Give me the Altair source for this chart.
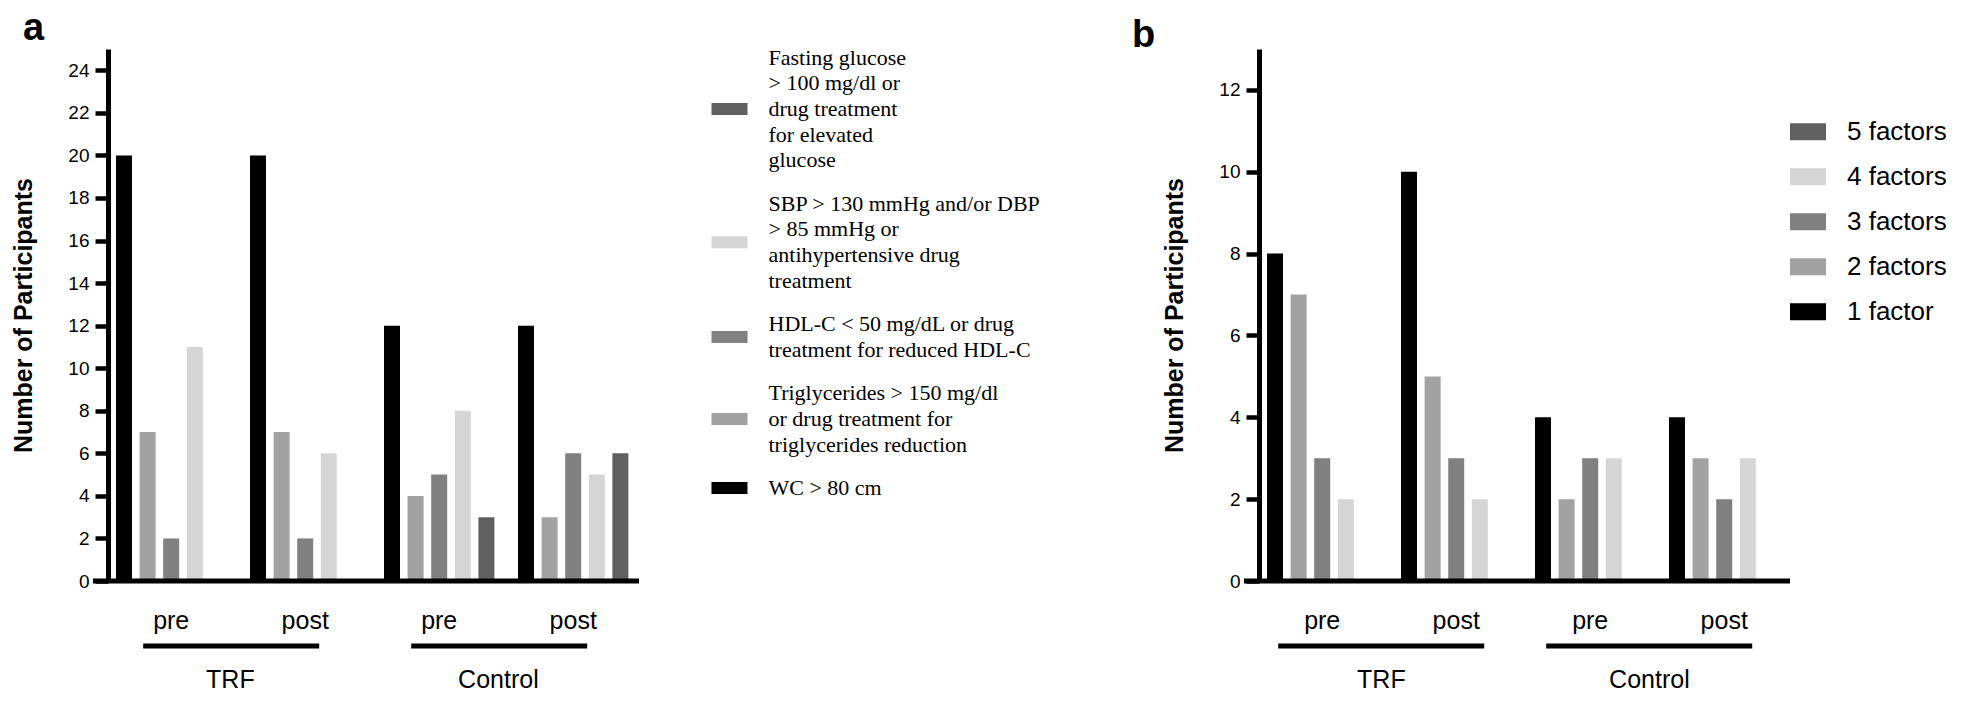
import altair as alt
import pandas as pd

SANS = "Liberation Sans"
SERIF = "Liberation Serif"

# ---------------- data ----------------
groups = ["TRF pre", "TRF post", "Control pre", "Control post"]
bracket_start = ["TRF pre", "Control pre"]
bracket_end = ["TRF post", "Control post"]
bracket_label = ["TRF", "Control"]

# panel a: metabolic syndrome criteria (bar order left -> right); '|' marks a line break
cat_a = [
    "WC > 80 cm",
    "Triglycerides > 150 mg/dl|or drug treatment for|triglycerides reduction",
    "HDL-C < 50 mg/dL or drug|treatment for reduced HDL-C",
    "SBP > 130 mmHg and/or DBP|> 85 mmHg or|antihypertensive drug|treatment",
    "Fasting glucose|> 100 mg/dl or|drug treatment|for elevated|glucose",
]
colors_a = ["#000000", "#a2a2a2", "#808080", "#d5d5d5", "#606060"]
wc = [20, 20, 12, 12]
tg = [7, 7, 4, 3]
hdl = [2, 2, 5, 6]
sbp = [11, 6, 8, 5]
glu = [0, 0, 3, 6]
values_a = [wc, tg, hdl, sbp, glu]

# panel b: number of risk factors
cat_b = ["1 factor", "2 factors", "3 factors", "4 factors", "5 factors"]
colors_b = ["#000000", "#a2a2a2", "#808080", "#d5d5d5", "#606060"]
f1 = [8, 10, 4, 4]
f2 = [7, 5, 2, 3]
f3 = [3, 3, 3, 2]
f4 = [2, 2, 3, 3]
f5 = [0, 0, 0, 0]
values_b = [f1, f2, f3, f4, f5]

yticks_a = list(range(0, 25, 2))
yticks_b = list(range(0, 13, 2))
panel_letters = ["a", "b"]


def long_df(cats, vals):
    rows = []
    for c, series in zip(cats, vals):
        for g, v in zip(groups, series):
            rows.append({"group": g, "category": c, "value": v})
    return pd.DataFrame(rows)


W = 531
H = 532


def legend_layer(cats, colors, unit, gap, d0, font, size, sw_path, sw_x, txt_x):
    legend_order = cats[::-1]
    df = pd.DataFrame({"category": legend_order, "order": list(range(len(legend_order)))})
    base = alt.Chart(df).transform_calculate(
        lines="split(datum.category, '|')",
        n="length(split(datum.category, '|'))",
    ).transform_window(
        cum="sum(n)", sort=[alt.SortField("order")], frame=[None, 0]
    ).transform_calculate(
        top=f"datum.cum - datum.n + {gap} * datum.order",
        mid=f"datum.cum - 0.5 * datum.n + {gap} * datum.order",
    )
    yscale = alt.Scale(domain=[d0, d0 + H / unit], reverse=True, nice=False, zero=False)
    sw = base.mark_point(shape=sw_path, size=1296, filled=True, opacity=1, strokeWidth=0).encode(
        x=alt.value(sw_x),
        y=alt.Y("mid:Q", scale=yscale, axis=None),
        color=alt.Color("category:N", scale=alt.Scale(domain=legend_order, range=colors[::-1]),
                        legend=None),
    )
    txt = base.transform_flatten(["lines"], as_=["line"]).transform_window(
        idx="row_number()", groupby=["category"]
    ).transform_calculate(
        ly="datum.top + datum.idx - 0.5"
    ).mark_text(align="left", baseline="middle", font=font, fontSize=size, color="black").encode(
        x=alt.value(txt_x),
        y=alt.Y("ly:Q", scale=yscale, axis=None),
        text=alt.Text("line:N"),
    )
    return alt.layer(sw, txt)


def panel(cats, colors, vals, ymax, yticks, letter, letter_dx, letter_dy, br_off, leg):
    df = long_df(cats, vals)
    x_scale = alt.Scale(domain=groups, paddingInner=0.1761, paddingOuter=0.0694, align=0.43)
    bars = alt.Chart(df).mark_bar(opacity=1).encode(
        x=alt.X("group:N", sort=groups, scale=x_scale, title=None,
                axis=alt.Axis(domain=False, ticks=False, tickSize=0, labelAngle=0,
                              labelExpr="split(datum.label, ' ')[1]",
                              labelFont=SANS, labelFontSize=25, labelColor="black",
                              labelPadding=39, labelBaseline="middle")),
        xOffset=alt.XOffset("category:N", sort=cats,
                            scale=alt.Scale(domain=cats, paddingInner=0.322, paddingOuter=0)),
        y=alt.Y("value:Q", scale=alt.Scale(domain=[0, ymax], nice=False, zero=True),
                axis=alt.Axis(title="Number of Participants", values=yticks, format="d",
                              grid=False, domainWidth=5, domainColor="black",
                              tickColor="black", tickWidth=4.5, tickSize=13,
                              labelFont=SANS, labelFontSize=19, labelColor="black",
                              labelPadding=6, titleFont=SANS, titleFontSize=25,
                              titleFontWeight="bold", titleColor="black", titlePadding=31)),
        color=alt.Color("category:N", scale=alt.Scale(domain=cats[::-1], range=colors[::-1]),
                        legend=None),
    )
    axis_line = alt.Chart(pd.DataFrame({"v": [0]})).mark_rule(
        color="black", strokeWidth=5).encode(
        y=alt.datum(0), x=alt.value(-15), x2=alt.value(W))
    br = pd.DataFrame({"group": bracket_start, "group_end": bracket_end, "label": bracket_label})
    brackets = alt.Chart(br).mark_rule(color="black", strokeWidth=5,
                                       xOffset=br_off[0], x2Offset=br_off[1]).encode(
        x=alt.X("group:N", title=None), x2="group_end:N", y=alt.value(H + 65))
    names = alt.Chart(br).mark_text(font=SANS, fontSize=25, color="black", baseline="middle",
                                    dx=4).encode(
        x=alt.X("group:N", bandPosition=1, title=None), y=alt.value(H + 99), text="label:N")
    tag = alt.Chart(pd.DataFrame({"t": [letter]})).mark_text(
        font=SANS, fontSize=38, fontWeight="bold", color="black", align="left",
        baseline="alphabetic").encode(x=alt.value(letter_dx), y=alt.value(letter_dy), text="t:N")
    inner = alt.layer(bars, axis_line, brackets, names, tag)
    return alt.layer(inner, leg).resolve_scale(y="independent").properties(width=W, height=H)


leg_a = legend_layer(cat_a, colors_a, 25.7, 0.687, 0.165, SERIF, 22,
                     "M-1,-0.333H1V0.333H-1Z", 621.5, 660.5)
leg_b = legend_layer(cat_b, colors_b, 45, 0, -1.338, SANS, 26,
                     "M-1,-0.47H1V0.47H-1Z", W + 18, W + 57)

pa = panel(cat_a, colors_a, values_a, 25, yticks_a, panel_letters[0], -85, -9, (-28, 14), leg_a)
pb = panel(cat_b, colors_b, values_b, 13, yticks_b, panel_letters[1], -127, -2, (-44, 28), leg_b)

chart = alt.hconcat(pa, pb, spacing=91).resolve_scale(
    color="independent", xOffset="independent", x="independent", y="independent"
).configure_view(stroke=None).properties(
    padding={"left": 3, "top": 2, "right": 0, "bottom": 0})

chart.save("out.html", embed_options={"renderer": "svg", "actions": False})
